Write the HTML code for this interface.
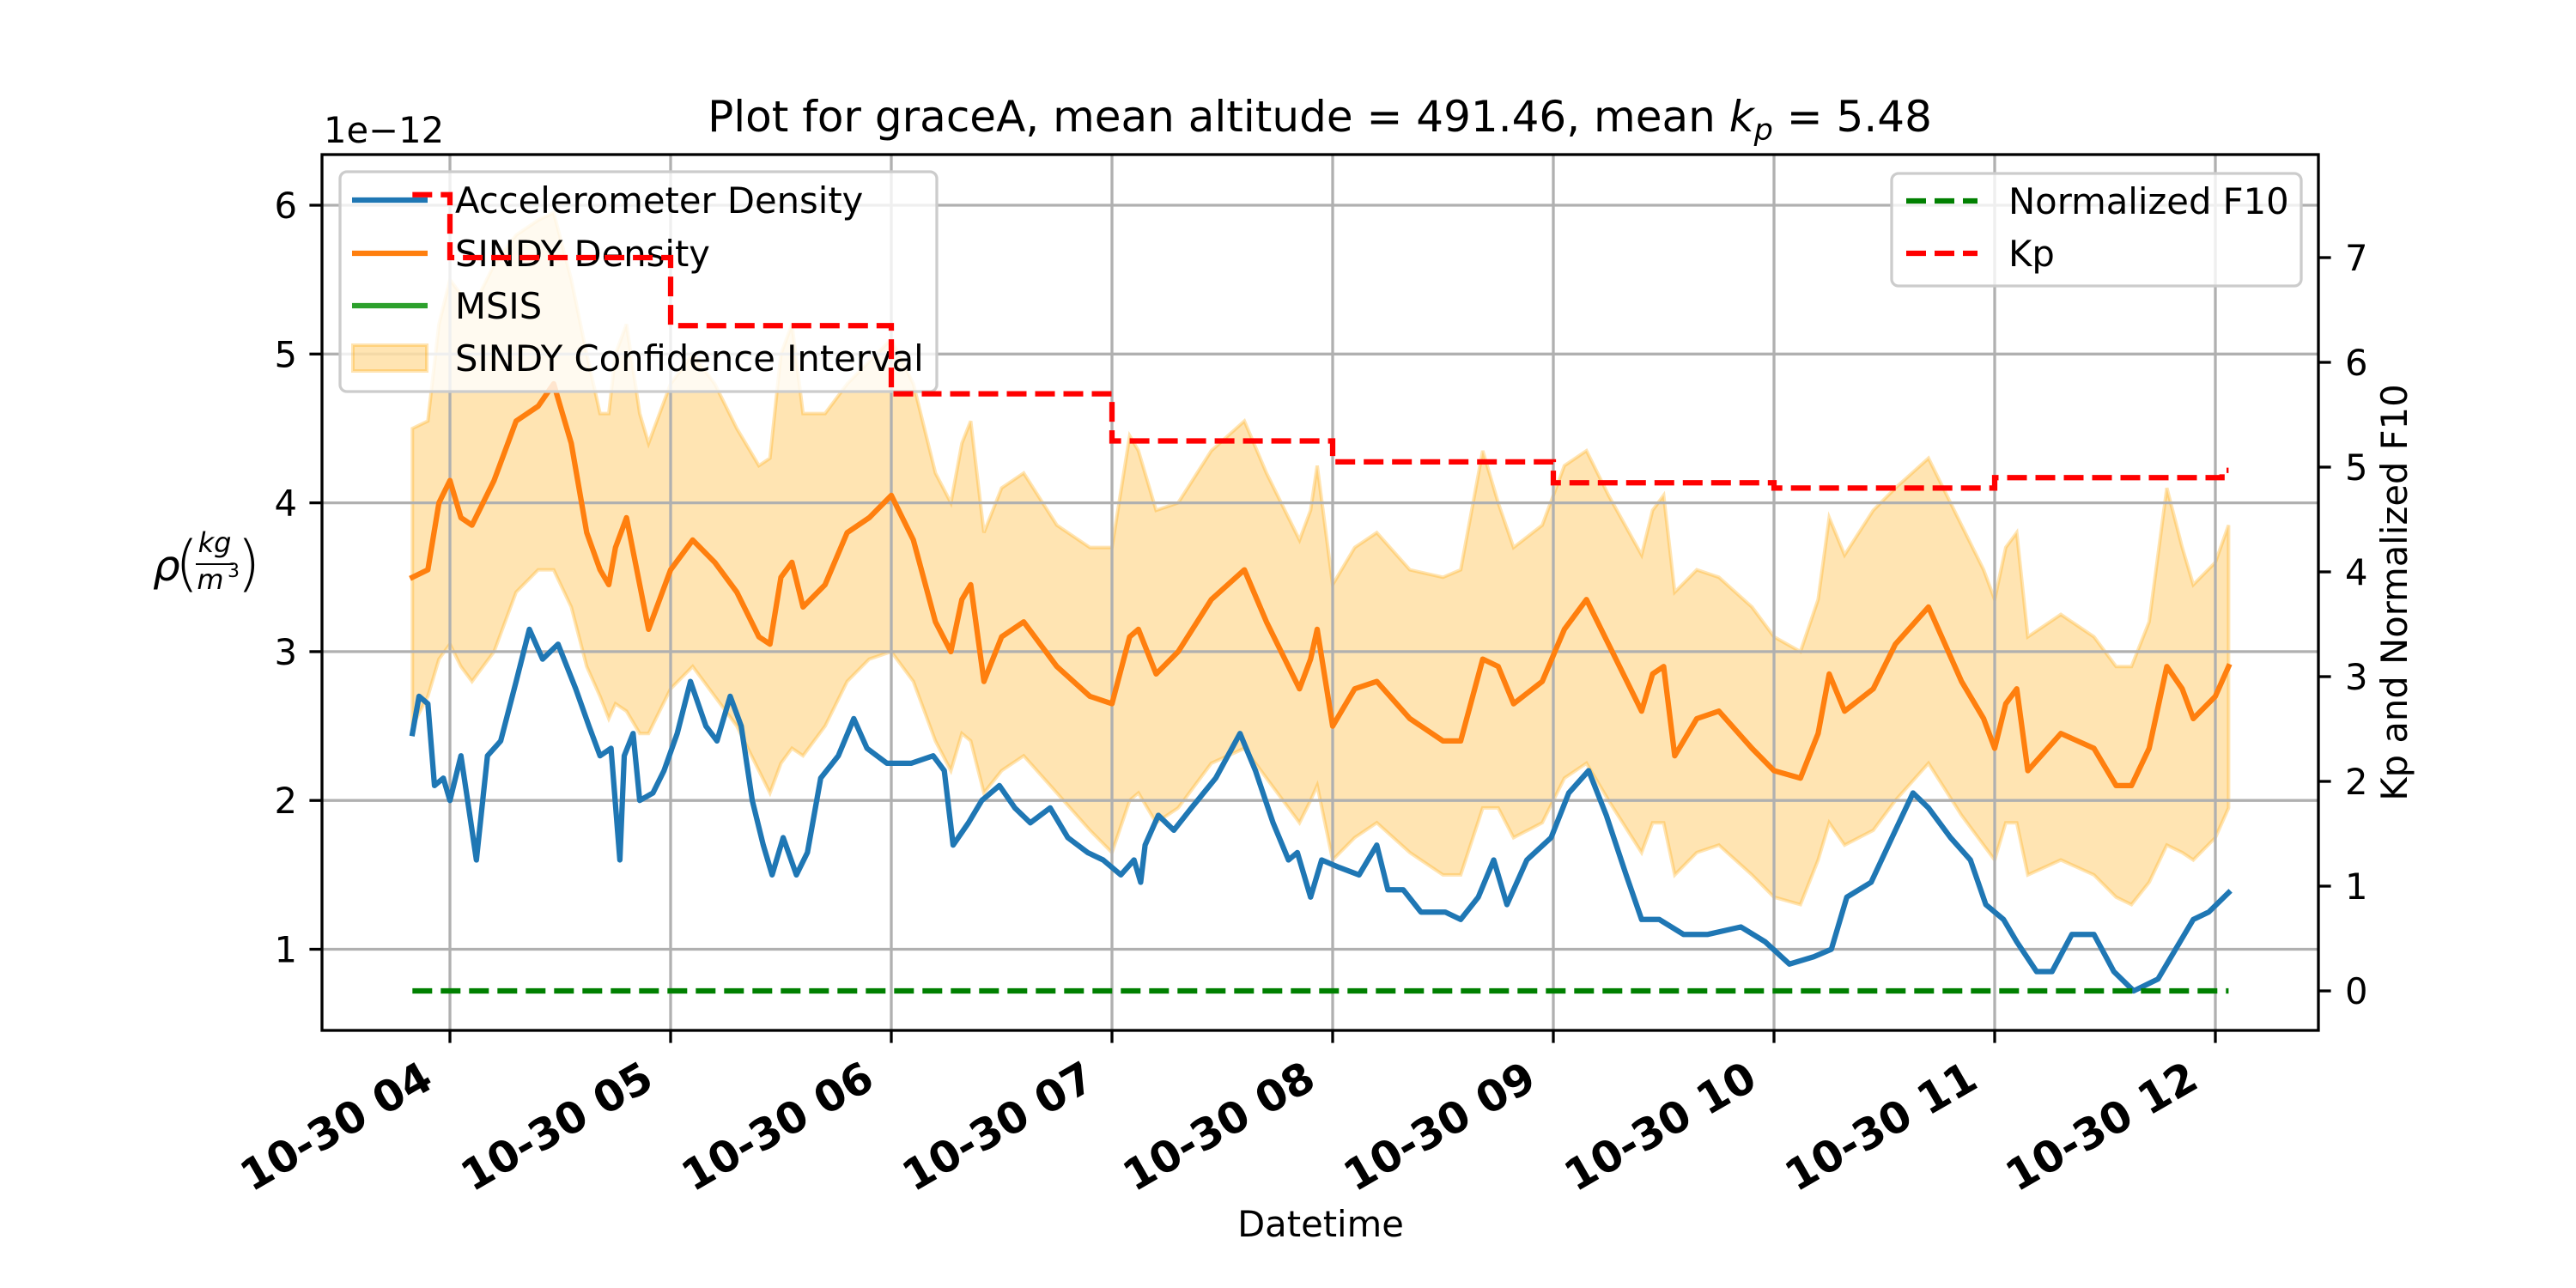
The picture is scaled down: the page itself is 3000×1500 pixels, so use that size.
<!DOCTYPE html>
<html><head><meta charset="utf-8"><style>
html,body{margin:0;padding:0;background:#fff;}
svg{display:block;font-family:"DejaVu Sans","Liberation Sans",sans-serif;}
</style></head><body>
<svg id="chart" width="3000" height="1500" viewBox="0 0 3000 1500" xmlns="http://www.w3.org/2000/svg">
<defs><clipPath id="plotclip"><rect x="375" y="180" width="2325" height="1020"/></clipPath></defs>
<rect x="0" y="0" width="3000" height="1500" fill="#fff"/>
<g id="fillLayer" clip-path="url(#plotclip)"></g>
<g id="gridLayer" clip-path="url(#plotclip)"></g>
<g id="lineLayer" clip-path="url(#plotclip)"></g>
<g id="axesLayer"></g>
<g id="leftLegendLayer"></g>
<g id="twinLayer" clip-path="url(#plotclip)"></g>
<g id="rightLegendLayer"></g>
<text x="1537" y="153" font-size="50" text-anchor="middle">Plot for graceA, mean altitude = 491.46, mean <tspan font-style="italic">k</tspan><tspan font-style="italic" font-size="35" dy="10">p</tspan><tspan dy="-10"> = 5.48</tspan></text>
<text x="377" y="166" font-size="41.7">1e−12</text>
<g>
<text x="178" y="676" font-size="50" font-style="italic">ρ</text>
<text x="204" y="680" font-size="70" font-weight="200">(</text>
<text x="250" y="643" font-size="32" font-style="italic" text-anchor="middle">kg</text>
<line x1="228" y1="657" x2="272" y2="657" stroke="#000" stroke-width="2"/>
<text x="245" y="686" font-size="32" font-style="italic" text-anchor="middle">m</text>
<text x="265" y="672" font-size="22">3</text>
<text x="276" y="680" font-size="70" font-weight="200">)</text>
</g>
<text transform="translate(2803,690) rotate(-90)" font-size="41.7" text-anchor="middle">Kp and Normalized F10</text>
<text x="1538" y="1440" font-size="41.7" text-anchor="middle">Datetime</text>
</svg>
<script>
// ---- data (hours of 2003-10-30) ----
const accTimes = [3.83,3.86,3.9,3.93,3.97,4.0,4.05,4.08,4.12,4.17,4.23,4.3,4.36,4.42,4.49,4.57,4.63,4.68,4.73,4.77,4.79,4.83,4.86,4.92,4.97,5.03,5.09,5.16,5.21,5.27,5.32,5.37,5.42,5.46,5.51,5.57,5.62,5.68,5.76,5.83,5.89,5.98,6.09,6.19,6.24,6.28,6.35,6.41,6.49,6.56,6.63,6.72,6.8,6.89,6.96,7.04,7.1,7.13,7.15,7.21,7.28,7.36,7.47,7.58,7.65,7.73,7.8,7.84,7.9,7.95,8.03,8.12,8.2,8.25,8.32,8.4,8.51,8.58,8.66,8.73,8.79,8.88,8.99,9.07,9.16,9.24,9.33,9.4,9.48,9.59,9.7,9.85,9.96,10.07,10.18,10.26,10.33,10.44,10.55,10.63,10.7,10.8,10.89,10.96,11.04,11.1,11.19,11.26,11.35,11.45,11.54,11.63,11.74,11.82,11.9,11.97,12.06];
const accValues = [2.45,2.7,2.65,2.1,2.15,2.0,2.3,2.0,1.6,2.3,2.4,2.8,3.15,2.95,3.05,2.75,2.5,2.3,2.35,1.6,2.3,2.45,2.0,2.05,2.2,2.45,2.8,2.5,2.4,2.7,2.5,2.0,1.7,1.5,1.75,1.5,1.65,2.15,2.3,2.55,2.35,2.25,2.25,2.3,2.2,1.7,1.85,2.0,2.1,1.95,1.85,1.95,1.75,1.65,1.6,1.5,1.6,1.45,1.7,1.9,1.8,1.95,2.15,2.45,2.2,1.85,1.6,1.65,1.35,1.6,1.55,1.5,1.7,1.4,1.4,1.25,1.25,1.2,1.35,1.6,1.3,1.6,1.75,2.05,2.2,1.9,1.5,1.2,1.2,1.1,1.1,1.15,1.05,0.9,0.95,1.0,1.35,1.45,1.8,2.05,1.95,1.75,1.6,1.3,1.2,1.05,0.85,0.85,1.1,1.1,0.85,0.72,0.8,1.0,1.2,1.25,1.38];
const sindyTimes = [3.83,3.9,3.95,4.0,4.05,4.1,4.2,4.3,4.4,4.47,4.55,4.62,4.68,4.72,4.75,4.8,4.86,4.9,5.0,5.1,5.2,5.3,5.4,5.45,5.5,5.55,5.6,5.7,5.8,5.9,6.0,6.1,6.2,6.27,6.32,6.36,6.42,6.5,6.6,6.75,6.9,7.0,7.08,7.12,7.2,7.3,7.45,7.6,7.7,7.85,7.9,7.93,8.0,8.1,8.2,8.35,8.5,8.58,8.68,8.75,8.82,8.95,9.05,9.15,9.25,9.4,9.45,9.5,9.55,9.65,9.75,9.9,10.0,10.12,10.2,10.25,10.32,10.45,10.55,10.7,10.85,10.95,11.0,11.05,11.1,11.15,11.3,11.45,11.55,11.62,11.7,11.78,11.85,11.9,12.0,12.06];
const sindyValues = [3.5,3.55,4.0,4.15,3.9,3.85,4.15,4.55,4.65,4.8,4.4,3.8,3.55,3.45,3.7,3.9,3.45,3.15,3.55,3.75,3.6,3.4,3.1,3.05,3.5,3.6,3.3,3.45,3.8,3.9,4.05,3.75,3.2,3.0,3.35,3.45,2.8,3.1,3.2,2.9,2.7,2.65,3.1,3.15,2.85,3.0,3.35,3.55,3.2,2.75,2.95,3.15,2.5,2.75,2.8,2.55,2.4,2.4,2.95,2.9,2.65,2.8,3.15,3.35,3.05,2.6,2.85,2.9,2.3,2.55,2.6,2.35,2.2,2.15,2.45,2.85,2.6,2.75,3.05,3.3,2.8,2.55,2.35,2.65,2.75,2.2,2.45,2.35,2.1,2.1,2.35,2.9,2.75,2.55,2.7,2.9];
const ciUpper = [4.5,4.55,5.2,5.5,5.4,5.3,5.6,5.8,5.9,5.95,5.5,5.0,4.6,4.6,5.0,5.2,4.6,4.4,4.8,5.0,4.8,4.5,4.25,4.3,5.0,5.2,4.6,4.6,4.8,4.95,5.1,4.8,4.2,4.0,4.4,4.55,3.8,4.1,4.2,3.85,3.7,3.7,4.45,4.35,3.95,4.0,4.35,4.55,4.2,3.75,3.95,4.25,3.45,3.7,3.8,3.55,3.5,3.55,4.35,4.0,3.7,3.85,4.25,4.35,4.05,3.65,3.95,4.05,3.4,3.55,3.5,3.3,3.1,3.0,3.35,3.9,3.65,3.95,4.1,4.3,3.85,3.55,3.35,3.7,3.8,3.1,3.25,3.1,2.9,2.9,3.2,4.1,3.7,3.45,3.6,3.85];
const ciLower = [2.5,2.7,2.95,3.05,2.9,2.8,3.0,3.4,3.55,3.55,3.3,2.9,2.7,2.55,2.65,2.6,2.45,2.45,2.75,2.9,2.7,2.5,2.2,2.05,2.25,2.35,2.3,2.5,2.8,2.95,3.0,2.8,2.4,2.2,2.45,2.4,2.05,2.2,2.3,2.05,1.8,1.65,2.0,2.05,1.85,1.95,2.25,2.35,2.15,1.85,2.0,2.1,1.6,1.75,1.85,1.65,1.5,1.5,1.95,1.95,1.75,1.85,2.15,2.25,2.0,1.65,1.85,1.85,1.5,1.65,1.7,1.5,1.35,1.3,1.6,1.85,1.7,1.8,2.0,2.25,1.9,1.7,1.6,1.85,1.85,1.5,1.6,1.5,1.35,1.3,1.45,1.7,1.65,1.6,1.75,1.95];
const kpTimes = [3.83,4.0,5.0,6.0,7.0,8.0,9.0,10.0,11.0,12.03];
const kpValues = [7.6,7.0,6.35,5.7,5.25,5.05,4.85,4.8,4.9,4.97];
const kpEnd = 12.06;
const f10Times = [3.83,12.06];
const f10Values = [0,0];
const xTickHours = [4,5,6,7,8,9,10,11,12];
const xTickLabels = ["10-30 04","10-30 05","10-30 06","10-30 07","10-30 08","10-30 09","10-30 10","10-30 11","10-30 12"];
const yTicksLeft = [1,2,3,4,5,6];
const yTicksRight = [0,1,2,3,4,5,6,7];

// ---- axes ----
const X0=375,X1=2700,Y0=180,Y1=1200;
function xs(h){return 524+(h-4)*257;}
function yL(v){return 239+(6-v)*173.3;}
function yR(v){return 1154-v*122;}
const NS="http://www.w3.org/2000/svg";
function mk(tag,attrs,parent){const e=document.createElementNS(NS,tag);for(const k in attrs)e.setAttribute(k,attrs[k]);parent.appendChild(e);return e;}
const $=id=>document.getElementById(id);
function pts(ts,vs,fy){return ts.map((t,i)=>xs(t).toFixed(1)+","+fy(vs[i]).toFixed(1));}

// fill
let poly=pts(sindyTimes,ciUpper,yL).concat(pts(sindyTimes,ciLower,yL).reverse());
let ci=mk('polygon',{points:poly.join(' '),fill:'#ffa500','fill-opacity':'0.3',stroke:'#ffa500','stroke-opacity':'0.3','stroke-width':'4'},$('fillLayer'));



// grid
xTickHours.forEach(h=>{const l=mk('line',{x1:xs(h),x2:xs(h),y1:Y0,y2:Y1,stroke:'#b0b0b0','stroke-width':3.3},$('gridLayer'));

});
yTicksLeft.forEach(v=>{const l=mk('line',{x1:X0,x2:X1,y1:yL(v),y2:yL(v),stroke:'#b0b0b0','stroke-width':3.3},$('gridLayer'));

});

// lines
let acc=mk('polyline',{points:pts(accTimes,accValues,yL).join(' '),fill:'none',stroke:'#1f77b4','stroke-width':6.25,'stroke-linejoin':'round','stroke-linecap':'square'},$('lineLayer'));


let sd=mk('polyline',{points:pts(sindyTimes,sindyValues,yL).join(' '),fill:'none',stroke:'#ff7f0e','stroke-width':6.25,'stroke-linejoin':'round','stroke-linecap':'square'},$('lineLayer'));



// twin lines
let kpP=[];
kpTimes.forEach((t,i)=>{const nt=i<kpTimes.length-1?kpTimes[i+1]:kpEnd;kpP.push(xs(t).toFixed(1)+","+yR(kpValues[i]).toFixed(1));kpP.push(xs(nt).toFixed(1)+","+yR(kpValues[i]).toFixed(1));});
let f10=mk('polyline',{points:pts(f10Times,f10Values,yR).join(' '),fill:'none',stroke:'#008000','stroke-width':6.25,'stroke-dasharray':'23 10'},$('twinLayer'));


let kp=mk('polyline',{points:kpP.join(' '),fill:'none',stroke:'#ff0000','stroke-width':6.25,'stroke-dasharray':'23 10'},$('twinLayer'));



// axes frame & ticks
const ax=$('axesLayer');
let fr=mk('rect',{x:X0,y:Y0,width:X1-X0,height:Y1-Y0,fill:'none',stroke:'#000','stroke-width':3.3},ax);


xTickHours.forEach((h,i)=>{
 mk('line',{x1:xs(h),x2:xs(h),y1:Y1,y2:Y1+14.6,stroke:'#000','stroke-width':3.3},ax);
 const x=xs(h)-17,y=1265;
 const t=mk('text',{x:x,y:y,'font-size':50,'font-weight':'bold','text-anchor':'end',transform:`rotate(-30 ${x} ${y})`},ax);
 t.textContent=xTickLabels[i];
 
 
});
yTicksLeft.forEach(v=>{
 mk('line',{x1:X0-14.6,x2:X0,y1:yL(v),y2:yL(v),stroke:'#000','stroke-width':3.3},ax);
 const t=mk('text',{x:X0-29,y:yL(v)+15,'font-size':41.7,'text-anchor':'end'},ax);
 t.textContent=v;
 
 
});
yTicksRight.forEach(v=>{
 mk('line',{x1:X1,x2:X1+14.6,y1:yR(v),y2:yR(v),stroke:'#000','stroke-width':3.3},ax);
 const t=mk('text',{x:X1+31,y:yR(v)+15,'font-size':41.7},ax);
 t.textContent=v;
 
 
});

// left legend
const LL=$('leftLegendLayer');


mk('rect',{x:396,y:200,width:695,height:256,rx:8,fill:'#fff','fill-opacity':0.8,stroke:'#cccccc','stroke-width':3.3},LL);
const leftItems=[["Accelerometer Density","#1f77b4",233],["SINDY Density","#ff7f0e",295],["MSIS","#2ca02c",356]];
leftItems.forEach(it=>{
 const g=mk('g',{},LL);
 
 
 mk('line',{x1:410,x2:498,y1:it[2],y2:it[2],stroke:it[1],'stroke-width':6.25},g);
 const t=mk('text',{x:530,y:it[2]+15,'font-size':41.7},g);t.textContent=it[0];
});
const gci=mk('g',{},LL);


mk('rect',{x:411,y:402,width:86,height:30,fill:'#ffa500','fill-opacity':0.3,stroke:'#ffa500','stroke-opacity':0.3,'stroke-width':4},gci);
const tci=mk('text',{x:530,y:432,'font-size':41.7},gci);tci.textContent="SINDY Confidence Interval";

// right legend
const RL=$('rightLegendLayer');


mk('rect',{x:2203,y:202,width:477,height:131,rx:8,fill:'#fff','fill-opacity':0.8,stroke:'#cccccc','stroke-width':3.3},RL);
[["Normalized F10","#008000",234],["Kp","#ff0000",295]].forEach(it=>{
 const g=mk('g',{},RL);
 
 
 mk('line',{x1:2220,x2:2303,y1:it[2],y2:it[2],stroke:it[1],'stroke-width':6.25,'stroke-dasharray':'23 10'},g);
 const t=mk('text',{x:2339,y:it[2]+15,'font-size':41.7},g);t.textContent=it[0];
});
</script>
</body></html>
